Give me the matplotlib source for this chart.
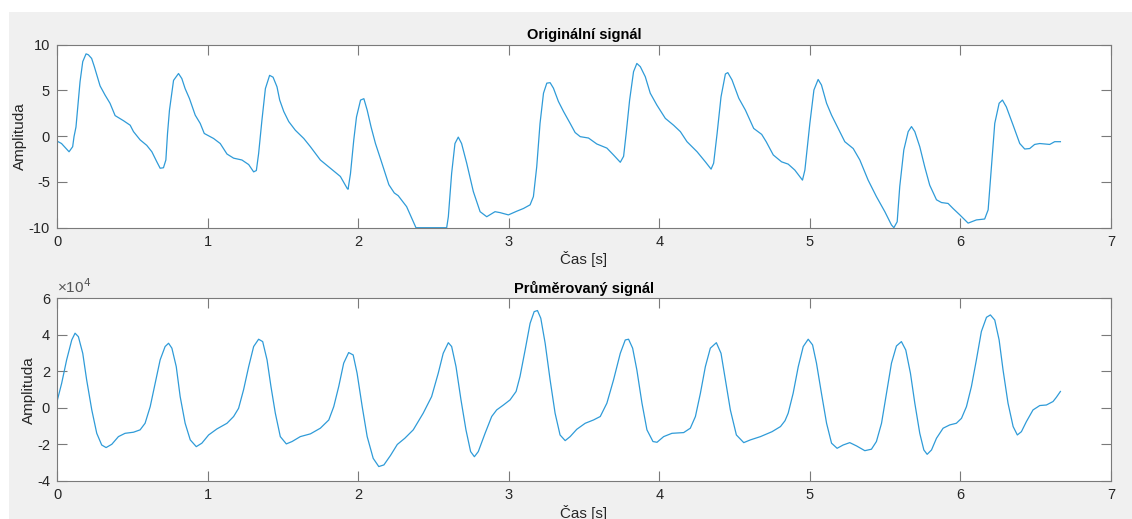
import matplotlib.pyplot as plt
from matplotlib.patches import Rectangle
from matplotlib.ticker import FuncFormatter

# Original signal (time [s], amplitude)
t_orig = [0.0, 0.03, 0.08, 0.104, 0.113, 0.126, 0.142, 0.153, 0.171, 0.193, 0.208, 0.23, 0.248,
          0.268, 0.286, 0.319, 0.352, 0.386, 0.441, 0.486, 0.508, 0.552, 0.596, 0.63, 0.663,
          0.685, 0.707, 0.723, 0.734, 0.747, 0.756, 0.774, 0.807, 0.829, 0.851, 0.88, 0.918,
          0.951, 0.978, 1.04, 1.084, 1.129, 1.173, 1.228, 1.273, 1.306, 1.324, 1.339, 1.361,
          1.384, 1.412, 1.435, 1.461, 1.479, 1.506, 1.539, 1.583, 1.639, 1.683, 1.749, 1.816,
          1.882, 1.927, 1.933, 1.949, 1.971, 1.989, 2.016, 2.038, 2.06, 2.086, 2.115, 2.149,
          2.204, 2.24, 2.266, 2.322, 2.384, 2.588, 2.599, 2.621, 2.643, 2.665, 2.687, 2.721,
          2.765, 2.81, 2.854, 2.909, 2.942, 2.998, 3.053, 3.098, 3.142, 3.164, 3.186, 3.208,
          3.231, 3.253, 3.275, 3.297, 3.33, 3.364, 3.408, 3.441, 3.475, 3.53, 3.585, 3.652,
          3.696, 3.741, 3.763, 3.78, 3.803, 3.829, 3.851, 3.874, 3.907, 3.94, 3.984, 4.04,
          4.095, 4.14, 4.184, 4.251, 4.306, 4.344, 4.361, 4.384, 4.41, 4.439, 4.455, 4.483,
          4.528, 4.572, 4.627, 4.68, 4.71, 4.757, 4.812, 4.856, 4.9, 4.951, 4.967, 5.0,
          5.027, 5.055, 5.077, 5.111, 5.144, 5.188, 5.232, 5.288, 5.332, 5.387, 5.442, 5.498,
          5.542, 5.558, 5.58, 5.597, 5.624, 5.653, 5.675, 5.697, 5.73, 5.763, 5.796, 5.841,
          5.874, 5.918, 5.951, 5.996, 6.051, 6.106, 6.161, 6.184, 6.206, 6.228, 6.257, 6.279,
          6.305, 6.35, 6.394, 6.427, 6.46, 6.493, 6.527, 6.593, 6.626, 6.664]
v_orig = [-0.53, -0.8, -1.7, -1.15, -0.05, 1.0, 3.95, 5.95, 8.15, 9.0, 8.9, 8.5, 7.6,
          6.5, 5.5, 4.5, 3.6, 2.25, 1.7, 1.2, 0.5, -0.4, -1.0, -1.7, -2.8,
          -3.5, -3.45, -2.6, 0.3, 2.85, 3.95, 6.1, 6.85, 6.3, 5.2, 4.1, 2.3,
          1.4, 0.3, -0.25, -0.8, -1.95, -2.4, -2.6, -3.1, -3.9, -3.75, -1.9, 1.75,
          5.2, 6.65, 6.45, 5.4, 3.95, 2.7, 1.6, 0.65, -0.25, -1.15, -2.6, -3.5,
          -4.4, -5.7, -5.8, -4.1, -0.4, 2.1, 3.95, 4.1, 2.85, 1.0, -0.8, -2.5,
          -5.3, -6.2, -6.5, -7.7, -10.0, -10.0, -8.8, -4.05, -0.8, -0.1, -0.8, -2.95,
          -6.05, -8.25, -8.8, -8.25, -8.35, -8.6, -8.2, -7.9, -7.5, -6.6, -3.35, 1.4,
          4.7, 5.8, 5.85, 5.25, 3.8, 2.7, 1.4, 0.4, -0.05, -0.2, -0.85, -1.3,
          -2.05, -2.85, -2.2, 0.3, 3.95, 7.05, 7.95, 7.6, 6.5, 4.7, 3.4, 1.95,
          1.2, 0.5, -0.6, -1.7, -2.8, -3.6, -2.95, 0.3, 4.3, 6.8, 6.95, 6.15,
          4.15, 2.85, 0.85, 0.2, -0.6, -2.05, -2.8, -3.05, -3.7, -4.8, -3.7, 1.4,
          5.05, 6.2, 5.6, 3.6, 2.3, 0.85, -0.6, -1.35, -2.6, -4.8, -6.6, -8.25,
          -9.7, -10.0, -9.35, -5.5, -1.5, 0.5, 1.05, 0.5, -1.15, -3.35, -5.35, -6.95,
          -7.25, -7.35, -7.9, -8.6, -9.5, -9.15, -9.05, -8.05, -3.35, 1.4, 3.6, 3.95,
          3.2, 1.2, -0.8, -1.4, -1.35, -0.9, -0.8, -0.9, -0.6, -0.6]

# Averaged signal (time [s], amplitude in units of 1e4)
t_avg = [0.0, 0.031, 0.064, 0.098, 0.12, 0.142, 0.171, 0.197, 0.231, 0.264, 0.297, 0.326,
         0.364, 0.408, 0.452, 0.508, 0.552, 0.585, 0.619, 0.652, 0.685, 0.718, 0.741, 0.763,
         0.792, 0.818, 0.851, 0.885, 0.925, 0.962, 1.007, 1.062, 1.129, 1.173, 1.206, 1.239,
         1.273, 1.306, 1.339, 1.366, 1.395, 1.421, 1.45, 1.483, 1.523, 1.561, 1.616, 1.683,
         1.749, 1.805, 1.838, 1.871, 1.904, 1.937, 1.967, 1.993, 2.027, 2.06, 2.1, 2.137,
         2.171, 2.215, 2.26, 2.31, 2.366, 2.432, 2.488, 2.532, 2.565, 2.599, 2.621, 2.65,
         2.683, 2.716, 2.747, 2.772, 2.798, 2.843, 2.887, 2.92, 2.965, 3.009, 3.049, 3.075,
         3.109, 3.142, 3.169, 3.191, 3.213, 3.242, 3.275, 3.308, 3.341, 3.375, 3.408, 3.452,
         3.508, 3.563, 3.608, 3.652, 3.696, 3.741, 3.774, 3.796, 3.823, 3.851, 3.885, 3.918,
         3.958, 3.985, 4.029, 4.084, 4.162, 4.206, 4.24, 4.273, 4.306, 4.339, 4.379, 4.41,
         4.439, 4.472, 4.512, 4.561, 4.605, 4.672, 4.749, 4.805, 4.835, 4.856, 4.889, 4.923,
         4.956, 4.989, 5.018, 5.044, 5.077, 5.111, 5.144, 5.181, 5.221, 5.265, 5.31, 5.365,
         5.409, 5.442, 5.476, 5.509, 5.542, 5.575, 5.608, 5.637, 5.668, 5.697, 5.73, 5.757,
         5.779, 5.808, 5.841, 5.885, 5.929, 5.973, 6.007, 6.04, 6.073, 6.106, 6.139, 6.173,
         6.199, 6.228, 6.257, 6.283, 6.316, 6.35, 6.378, 6.405, 6.438, 6.482, 6.527, 6.571,
         6.615, 6.637, 6.664]
v_avg = [0.35, 1.35, 2.63, 3.72, 4.09, 3.9, 2.99, 1.53, -0.11, -1.39, -2.03, -2.17,
         -1.99, -1.57, -1.39, -1.33, -1.2, -0.84, 0.07, 1.35, 2.63, 3.36, 3.54, 3.27,
         2.26, 0.62, -0.84, -1.75, -2.12, -1.93, -1.48, -1.15, -0.84, -0.47, -0.02, 0.99,
         2.26, 3.36, 3.76, 3.63, 2.63, 1.17, -0.29, -1.57, -1.97, -1.84, -1.57, -1.42,
         -1.11, -0.66, 0.07, 1.17, 2.45, 3.03, 2.9, 1.9, 0.07, -1.57, -2.76, -3.21,
         -3.12, -2.6, -2.0, -1.66, -1.2, -0.29, 0.62, 1.9, 2.99, 3.57, 3.36, 2.26,
         0.44, -1.2, -2.39, -2.67, -2.39, -1.39, -0.47, -0.11, 0.16, 0.44, 0.9, 1.72,
         3.17, 4.63, 5.27, 5.33, 4.91, 3.54, 1.53, -0.29, -1.48, -1.79, -1.57, -1.17,
         -0.84, -0.66, -0.47, 0.26, 1.53, 2.99, 3.72, 3.76, 3.27, 2.08, 0.26, -1.2,
         -1.84, -1.88, -1.57, -1.39, -1.35, -1.11, -0.47, 0.8, 2.26, 3.27, 3.57, 2.99,
         1.53, -0.11, -1.48, -1.9, -1.75, -1.57, -1.3, -1.02, -0.7, -0.29, 0.8, 2.26,
         3.36, 3.76, 3.45, 2.45, 0.8, -0.84, -1.93, -2.21, -2.03, -1.9, -2.08, -2.34,
         -2.26, -1.84, -0.84, 0.8, 2.45, 3.39, 3.63, 3.17, 1.9, 0.26, -1.39, -2.3,
         -2.54, -2.3, -1.66, -1.11, -0.93, -0.84, -0.57, 0.07, 1.17, 2.63, 4.18, 4.96,
         5.09, 4.81, 3.72, 2.08, 0.26, -1.02, -1.48, -1.3, -0.75, -0.11, 0.13, 0.16,
         0.35, 0.58, 0.9]
v_avg = [v * 1e4 for v in v_avg]

x_ticks = [0, 1, 2, 3, 4, 5, 6, 7]

plt.rcParams['font.family'] = ['Liberation Sans', 'DejaVu Sans']
plt.rcParams['axes.unicode_minus'] = False
line_color = '#2f9bd8'
spine_color = '#7a7a7a'
text_color = '#262626'

fig = plt.figure(figsize=(11.32, 5.19), dpi=100, facecolor='white')
fig.patches.append(Rectangle((9 / 1132, 0), 1, 1 - 12 / 519, transform=fig.transFigure,
                             facecolor='#f0f0f0', edgecolor='none', zorder=-10))

ax1 = fig.add_axes([57 / 1132, 1 - 227.7 / 519, 1054 / 1132, 183 / 519])
ax2 = fig.add_axes([57 / 1132, 1 - 481 / 519, 1054 / 1132, 182.7 / 519])

ax1.plot(t_orig, v_orig, color=line_color, lw=0.9)
ax1.set_ylim(-10, 10)
ax1.set_yticks([-10, -5, 0, 5, 10])
ax1.set_title('Originální signál', fontsize=10.5, fontweight='bold', pad=4)

ax2.plot(t_avg, v_avg, color=line_color, lw=0.9)
ax2.set_ylim(-4e4, 6e4)
ax2.set_yticks([-4e4, -2e4, 0, 2e4, 4e4, 6e4])
ax2.yaxis.set_major_formatter(FuncFormatter(lambda v, p: f'{v / 1e4:g}'))
ax2.set_title('Průměrovaný signál', fontsize=10.5, fontweight='bold', pad=4)
ax2.text(0, 1.01, r'×10$^4$', transform=ax2.transAxes, ha='left', va='bottom',
         fontsize=11, color='#555555')

for ax in (ax1, ax2):
    ax.set_xlim(0, 7)
    ax.set_xticks(x_ticks)
    ax.set_xlabel('Čas [s]', fontsize=11, color=text_color, labelpad=2)
    ax.set_ylabel('Amplituda', fontsize=11, color=text_color, labelpad=1)
    ax.tick_params(direction='in', length=7, width=0.8, top=True, right=True,
                   labelsize=10.5, colors=spine_color, labelcolor=text_color, pad=5)
    for s in ax.spines.values():
        s.set_color(spine_color)
        s.set_linewidth(0.8)

fig.savefig('out.png', dpi=100, facecolor=fig.get_facecolor())
